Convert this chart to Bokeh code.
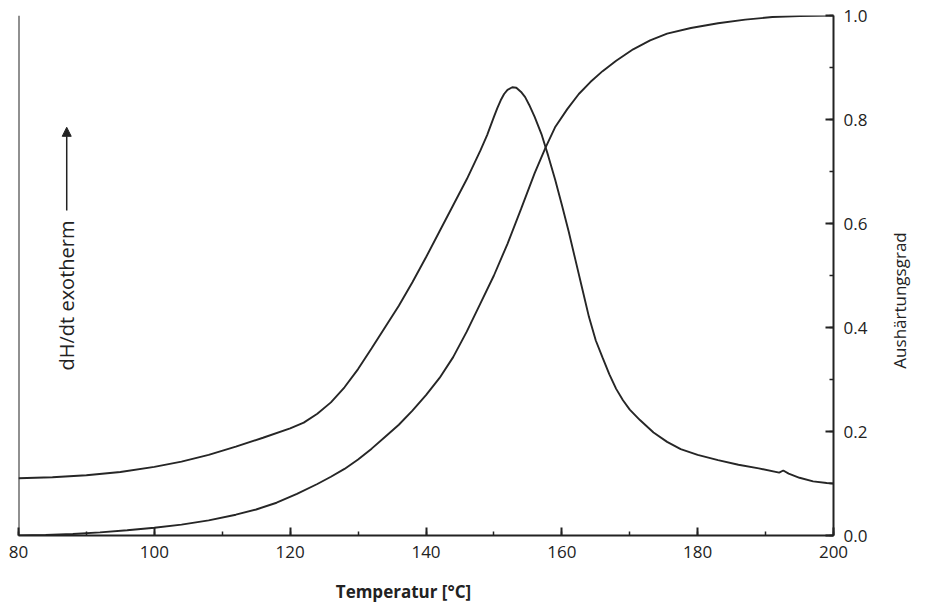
import math
from bokeh.plotting import figure
from bokeh.layouts import row, column
from bokeh.models import (Range1d, SingleIntervalTicker, PrintfTickFormatter, Span, Label,
                          Arrow, NormalHead)
from bokeh.core.properties import value
from bokeh.embed import file_html
from bokeh.resources import INLINE

# dH/dt (exotherm) curve, plotted in relative units on the 0..1 scale
dh_temp = [80, 85, 90, 95, 100, 104, 108, 112, 116, 120, 122, 124, 126, 128, 130, 132, 134,
           136, 138, 140, 142, 144, 146, 148, 149, 150, 150.5, 151, 151.5, 152, 152.7, 153.3,
           154, 154.6, 155.2, 156, 157, 158, 159, 160, 161, 162, 163, 164, 165, 166, 167, 168,
           169, 170, 171.5, 173.5, 175.5, 177.5, 180, 183, 186, 189, 192, 192.6, 193.4, 195,
           197, 199, 200]
dh_val = [0.110, 0.112, 0.116, 0.122, 0.132, 0.142, 0.155, 0.171, 0.188, 0.206, 0.217, 0.234,
          0.256, 0.285, 0.320, 0.360, 0.401, 0.442, 0.487, 0.535, 0.585, 0.635, 0.685, 0.740,
          0.770, 0.805, 0.822, 0.837, 0.849, 0.857, 0.862, 0.861, 0.853, 0.843, 0.828, 0.805,
          0.772, 0.730, 0.685, 0.636, 0.585, 0.530, 0.475, 0.420, 0.375, 0.342, 0.310, 0.282,
          0.260, 0.242, 0.222, 0.198, 0.180, 0.166, 0.155, 0.145, 0.136, 0.129, 0.121, 0.125,
          0.119, 0.111, 0.104, 0.101, 0.100]

# Aushärtungsgrad (degree of cure)
cure_temp = [80, 84, 88, 92, 96, 100, 104, 108, 112, 115, 118, 121, 124, 126, 128, 130, 132,
             134, 136, 138, 140, 142, 144, 146, 148, 150, 152, 154, 156, 157.6, 159, 160.8,
             162.5, 164.2, 166, 168, 170.5, 173, 175.5, 179, 183, 187, 191, 195, 200]
cure_val = [0.000, 0.001, 0.003, 0.006, 0.010, 0.015, 0.021, 0.029, 0.040, 0.050, 0.063, 0.080,
            0.099, 0.113, 0.128, 0.146, 0.167, 0.190, 0.213, 0.240, 0.270, 0.303, 0.343, 0.392,
            0.446, 0.500, 0.561, 0.628, 0.697, 0.746, 0.785, 0.820, 0.849, 0.872, 0.893, 0.913,
            0.935, 0.952, 0.965, 0.976, 0.985, 0.992, 0.997, 0.999, 1.000]

x_label = "Temperatur [°C]"
y_right_label = "Aushärtungsgrad"
y_left_label = "dH/dt exotherm"

FONT = "Open Sans"
INK = "#222222"

# ---- main chart ----
p = figure(width=878, height=570, output_backend="svg", toolbar_location=None,
           x_range=Range1d(80, 200), y_range=Range1d(0, 1), y_axis_location="right",
           min_border_left=18, min_border_right=45, min_border_top=15, min_border_bottom=35)
p.outline_line_color = None
p.xgrid.visible = False
p.ygrid.visible = False

for ax in (p.xaxis[0], p.yaxis[0]):
    ax.axis_line_color = INK
    ax.axis_line_width = 2
    ax.major_tick_line_color = INK
    ax.minor_tick_line_color = INK
    ax.major_tick_line_width = 2
    ax.minor_tick_line_width = 1.5
    ax.major_tick_in = 8
    ax.major_tick_out = 0
    ax.minor_tick_in = 4
    ax.minor_tick_out = 0
    ax.major_label_text_font = FONT
    ax.major_label_text_font_size = "17px"
    ax.major_label_text_color = INK

xa = p.xaxis[0]
xa.ticker = SingleIntervalTicker(interval=20, num_minor_ticks=2)
xa.major_label_standoff = 10

ya = p.yaxis[0]
ya.ticker = SingleIntervalTicker(interval=0.2, num_minor_ticks=2)
ya.formatter = PrintfTickFormatter(format="%.1f")
ya.major_label_standoff = 10

# left frame line (no ticks)
p.add_layout(Span(location=80, dimension="height", line_color=INK, line_width=2))

p.line(dh_temp, dh_val, line_color="#262626", line_width=1.9)
p.line(cure_temp, cure_val, line_color="#262626", line_width=1.9)

p.add_layout(Label(x=87.1, y=0.4615, text=y_left_label, text_font=FONT, text_font_size="20px",
                   text_color=INK, text_align="center", text_baseline="middle",
                   angle=math.pi / 2))
p.add_layout(Arrow(x_start=87.1, y_start=0.625, x_end=87.1, y_end=0.785,
                   line_color=INK, line_width=1.5,
                   end=NormalHead(size=9, fill_color=INK, line_color=INK)))

# ---- right-hand axis title (reads bottom to top) ----
p_right = figure(width=52, height=570, output_backend="svg", toolbar_location=None,
                 x_range=Range1d(0, 52), y_range=p.y_range,
                 x_axis_location=None, y_axis_location=None,
                 min_border_left=0, min_border_right=0, min_border_top=15, min_border_bottom=35)
p_right.outline_line_color = None
p_right.grid.visible = False
p_right.text(x=[21], y=[0.452], text=[y_right_label], angle=math.pi / 2,
             text_font=value(FONT), text_font_size="17px", text_color=INK,
             text_align="center", text_baseline="middle")

# ---- bottom axis title ----
p_bottom = figure(width=930, height=36, output_backend="svg", toolbar_location=None,
                  x_range=Range1d(0, 930), y_range=Range1d(0, 36),
                  x_axis_location=None, y_axis_location=None,
                  min_border_left=0, min_border_right=0, min_border_top=0, min_border_bottom=0)
p_bottom.outline_line_color = None
p_bottom.grid.visible = False
p_bottom.text(x=[403], y=[15], text=[x_label],
              text_font=value(FONT), text_font_size="17px", text_font_style="bold",
              text_color=INK, text_align="center", text_baseline="middle")

layout = column(row(p, p_right), p_bottom)
open("out.html", "w").write(file_html(layout, INLINE))
